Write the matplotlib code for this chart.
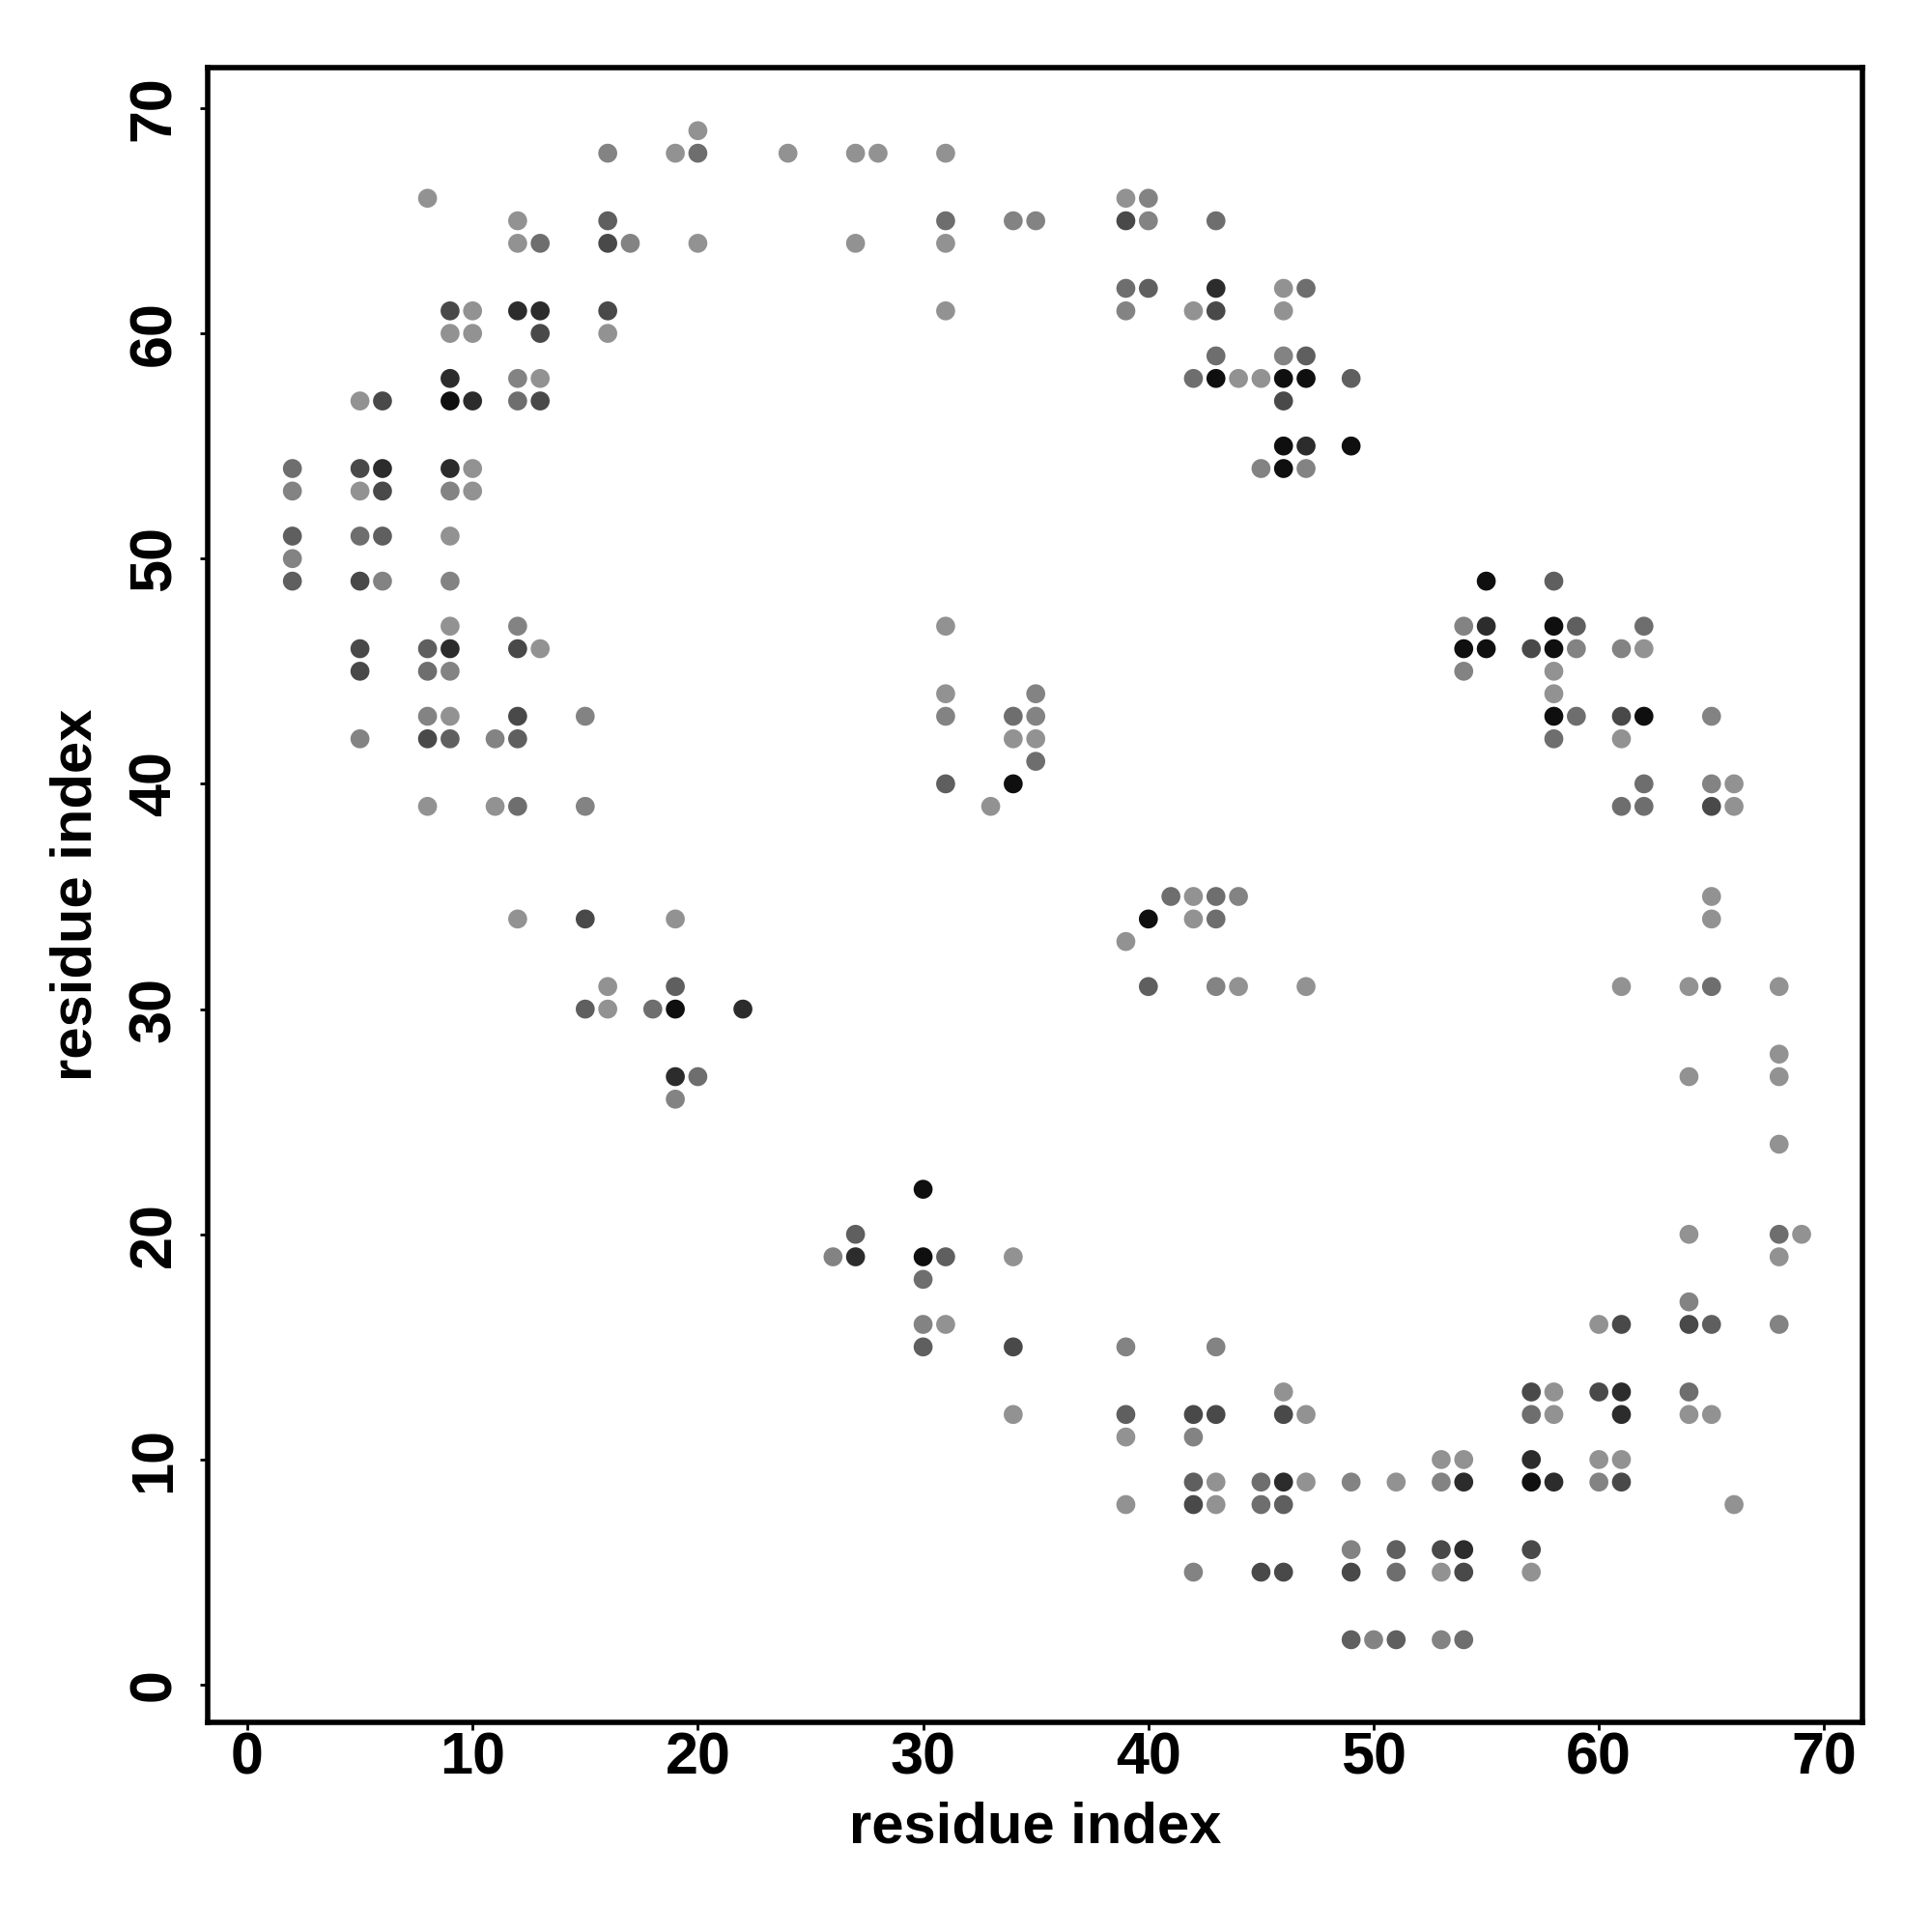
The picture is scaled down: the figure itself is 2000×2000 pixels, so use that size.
import numpy as np
import matplotlib.pyplot as plt
from matplotlib.colors import LinearSegmentedColormap

# contact strength levels read from the grey shades
L, LM, M, MD, D, VD, K = 0.05, 0.15, 0.3, 0.4, 0.55, 0.75, 0.95

contacts = [
    (20, 69, L),
    (16, 68, LM), (19, 68, L), (20, 68, M), (24, 68, L), (27, 68, L), (28, 68, L), (31, 68, L),
    (8, 66, L), (39, 66, L), (40, 66, LM),
    (12, 65, L), (16, 65, MD), (31, 65, M), (34, 65, LM), (35, 65, LM), (39, 65, D), (40, 65, LM), (43, 65, M),
    (12, 64, L), (13, 64, M), (16, 64, D), (17, 64, LM), (20, 64, L), (27, 64, L), (31, 64, L),
    (39, 62, M), (40, 62, MD), (43, 62, VD), (46, 62, L), (47, 62, M),
    (9, 61, D), (10, 61, L), (12, 61, VD), (13, 61, VD), (16, 61, D),
    (31, 61, L), (39, 61, LM), (42, 61, L), (43, 61, D), (46, 61, L),
    (9, 60, L), (10, 60, L), (13, 60, D), (16, 60, L),
    (43, 59, M), (46, 59, LM), (47, 59, MD),
    (9, 58, VD), (12, 58, LM), (13, 58, L),
    (42, 58, M), (43, 58, K), (44, 58, L), (45, 58, L), (46, 58, K), (47, 58, K), (49, 58, MD),
    (5, 57, L), (6, 57, D), (9, 57, K), (10, 57, VD), (12, 57, M), (13, 57, D), (46, 57, D),
    (46, 55, K), (47, 55, VD), (49, 55, K),
    (2, 54, M), (5, 54, D), (6, 54, VD), (9, 54, VD), (10, 54, L),
    (45, 54, LM), (46, 54, K), (47, 54, LM),
    (2, 53, LM), (5, 53, L), (6, 53, D), (9, 53, LM), (10, 53, L),
    (2, 51, MD), (5, 51, M), (6, 51, MD), (9, 51, L),
    (2, 50, LM),
    (2, 49, MD), (5, 49, D), (6, 49, LM), (9, 49, LM), (55, 49, K), (58, 49, MD),
    (9, 47, L), (12, 47, LM), (31, 47, L),
    (54, 47, LM), (55, 47, VD), (58, 47, K), (59, 47, MD), (62, 47, M),
    (5, 46, D), (8, 46, MD), (9, 46, VD), (12, 46, D), (13, 46, L),
    (54, 46, K), (55, 46, K), (57, 46, D), (58, 46, K), (59, 46, LM), (61, 46, LM), (62, 46, L),
    (5, 45, D), (8, 45, M), (9, 45, LM), (54, 45, LM), (58, 45, L),
    (31, 44, L), (35, 44, LM), (58, 44, L),
    (8, 43, LM), (9, 43, L), (12, 43, D), (15, 43, LM), (31, 43, LM), (34, 43, M), (35, 43, LM),
    (58, 43, K), (59, 43, M), (61, 43, D), (62, 43, K), (65, 43, LM),
    (5, 42, LM), (8, 42, D), (9, 42, MD), (11, 42, LM), (12, 42, MD), (34, 42, L), (35, 42, L),
    (58, 42, M), (61, 42, L),
    (35, 41, M),
    (31, 40, MD), (34, 40, K), (62, 40, M), (65, 40, LM), (66, 40, L),
    (8, 39, L), (11, 39, L), (12, 39, M), (15, 39, LM), (33, 39, L),
    (61, 39, M), (62, 39, M), (65, 39, D), (66, 39, L),
    (41, 35, M), (42, 35, L), (43, 35, M), (44, 35, LM), (65, 35, L),
    (12, 34, L), (15, 34, D), (19, 34, L), (40, 34, K), (42, 34, L), (43, 34, M), (65, 34, L),
    (39, 33, L),
    (16, 31, L), (19, 31, MD), (40, 31, MD), (43, 31, LM), (44, 31, L), (47, 31, L),
    (61, 31, L), (64, 31, L), (65, 31, M), (68, 31, L),
    (15, 30, MD), (16, 30, L), (18, 30, M), (19, 30, K), (22, 30, VD),
    (68, 28, L),
    (19, 27, VD), (20, 27, M), (64, 27, L), (68, 27, L),
    (19, 26, LM),
    (68, 24, L),
    (30, 22, K),
    (27, 20, MD), (64, 20, L), (68, 20, M), (69, 20, L),
    (26, 19, LM), (27, 19, VD), (30, 19, K), (31, 19, MD), (34, 19, L), (68, 19, L),
    (30, 18, M),
    (64, 17, LM),
    (30, 16, LM), (31, 16, L), (60, 16, L), (61, 16, D), (64, 16, D), (65, 16, MD), (68, 16, LM),
    (30, 15, MD), (34, 15, D), (39, 15, LM), (43, 15, LM),
    (46, 13, L), (57, 13, D), (58, 13, L), (60, 13, D), (61, 13, VD), (64, 13, M),
    (34, 12, L), (39, 12, MD), (42, 12, D), (43, 12, D), (46, 12, D), (47, 12, L),
    (57, 12, M), (58, 12, L), (61, 12, VD), (64, 12, L), (65, 12, L),
    (39, 11, L), (42, 11, LM),
    (53, 10, L), (54, 10, L), (57, 10, VD), (60, 10, L), (61, 10, L),
    (42, 9, MD), (43, 9, L), (45, 9, M), (46, 9, VD), (47, 9, L), (49, 9, LM),
    (51, 9, L), (53, 9, LM), (54, 9, VD), (57, 9, K), (58, 9, VD), (60, 9, LM), (61, 9, D),
    (39, 8, L), (42, 8, D), (43, 8, L), (45, 8, M), (46, 8, MD), (66, 8, L),
    (49, 6, LM), (51, 6, MD), (53, 6, D), (54, 6, VD), (57, 6, D),
    (42, 5, LM), (45, 5, D), (46, 5, D), (49, 5, D), (51, 5, M), (53, 5, L), (54, 5, D), (57, 5, L),
    (49, 2, MD), (50, 2, LM), (51, 2, MD), (53, 2, LM), (54, 2, M),
]

res_i = np.array([c[0] for c in contacts])
res_j = np.array([c[1] for c in contacts])
strength = np.array([c[2] for c in contacts])

plt.rcParams['font.family'] = ['Liberation Sans', 'DejaVu Sans']
plt.rcParams['font.weight'] = 'bold'

greys = LinearSegmentedColormap.from_list('greys', ['#999999', '#080808'])

fig = plt.figure(figsize=(10, 10), dpi=200)
ax = fig.add_axes([0.1075, 0.1085, 0.8565, 0.8565])

ax.scatter(res_i, res_j, c=strength, cmap=greys, vmin=0, vmax=1, s=50, linewidths=0)

ax.set_xlim(-1.76, 71.7)
ax.set_ylim(-1.67, 71.8)
ax.set_xticks(range(0, 71, 10))
ax.set_yticks(range(0, 71, 10))
for sp in ax.spines.values():
    sp.set_linewidth(2.0)
ax.tick_params(axis='both', direction='out', length=2.8, width=1.0, labelsize=22)
ax.tick_params(axis='x', pad=0.5)
ax.tick_params(axis='y', pad=6.5)
for lab in ax.get_yticklabels():
    lab.set_rotation(90)
    lab.set_va('center')
for lab in ax.get_xticklabels() + ax.get_yticklabels():
    lab.set_fontweight('bold')

ax.set_xlabel('residue index', fontsize=21.5, fontweight='bold', va='center')
ax.set_ylabel('residue index', fontsize=21.5, fontweight='bold', va='center')
ax.xaxis.set_label_coords(0.5, -0.0636)
ax.yaxis.set_label_coords(-0.0794, 0.5)

fig.savefig('out.png', dpi=200, facecolor='white')
